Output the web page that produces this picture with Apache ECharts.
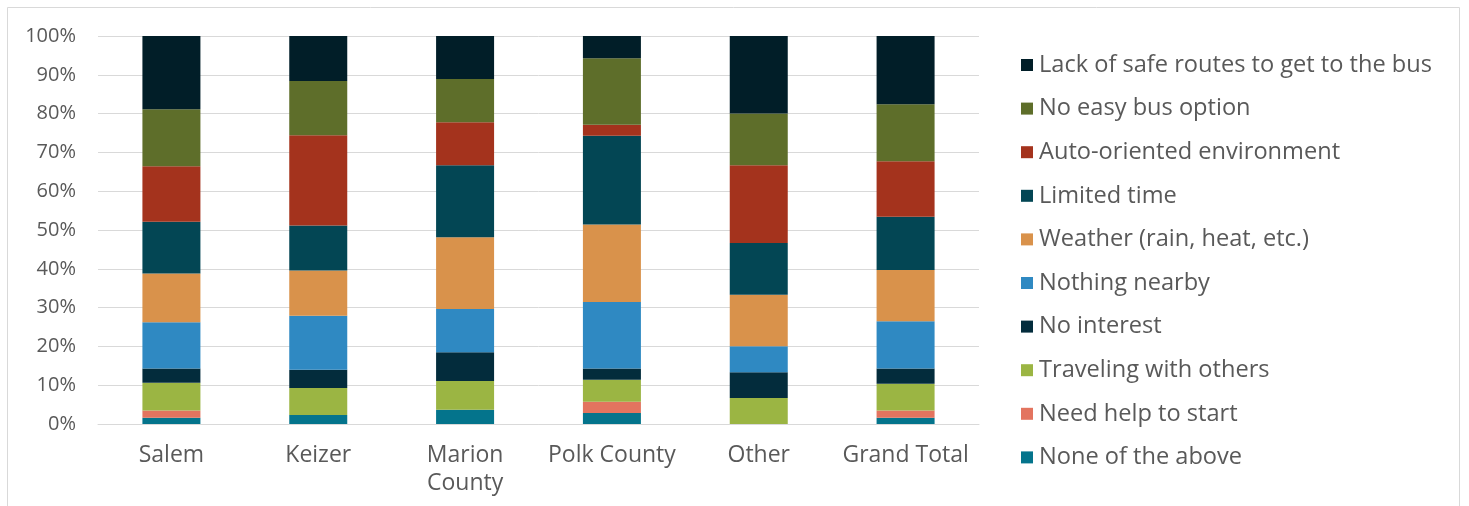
<!DOCTYPE html>
<html>
<head>
<meta charset="utf-8">
<script src="https://cdn.jsdelivr.net/npm/echarts@6/dist/echarts.min.js"></script>
<style>
  html, body { margin: 0; padding: 0; background: #ffffff; }
  #chart { width: 1469px; height: 506px; }
</style>
</head>
<body>
<div id="chart"></div>
<script>
// Categories
const categories = ["Salem", "Keizer", "Marion\nCounty", "Polk County", "Other", "Grand Total"];

// Y tick labels (percent)
const yTicks = [0, 10, 20, 30, 40, 50, 60, 70, 80, 90, 100];

// Series values (percent of each bar), bottom to top
const noneOfTheAbove   = [1.6, 2.33, 3.70, 2.86, 0,     1.6];
const needHelpToStart  = [1.9, 0,    0,    2.86, 0,     1.9];
const travelingWithOth = [7.1, 6.98, 7.41, 5.71, 6.67,  6.9];
const noInterest       = [3.7, 4.65, 7.41, 2.86, 6.67,  3.9];
const nothingNearby    = [11.9, 13.95, 11.11, 17.14, 6.67, 12.2];
const weather          = [12.6, 11.63, 18.52, 20.0, 13.33, 13.2];
const limitedTime      = [13.3, 11.63, 18.52, 22.86, 13.33, 13.7];
const autoOriented     = [14.3, 23.26, 11.11, 2.86, 20.0, 14.3];
const noEasyBus        = [14.7, 13.95, 11.11, 17.14, 13.33, 14.7];
const lackSafeRoutes   = [18.9, 11.63, 11.11, 5.71, 20.0, 17.6];

const seriesNames = [
  "None of the above",
  "Need help to start",
  "Traveling with others",
  "No interest",
  "Nothing nearby",
  "Weather (rain, heat, etc.)",
  "Limited time",
  "Auto-oriented environment",
  "No easy bus option",
  "Lack of safe routes to get to the bus"
];
const seriesData = [noneOfTheAbove, needHelpToStart, travelingWithOth, noInterest, nothingNearby,
  weather, limitedTime, autoOriented, noEasyBus, lackSafeRoutes];
const seriesColors = ["#04748C", "#E3745F", "#9BB543", "#032C3C", "#2F89C2",
  "#D9924B", "#034654", "#A4331D", "#5E6E2A", "#011E28"];

const FONT = "'Open Sans', 'DejaVu Sans', sans-serif";
const TEXT = "#595959";

const chart = echarts.init(document.getElementById('chart'), null, { renderer: 'canvas' });

const option = {
  animation: false,
  backgroundColor: '#ffffff',
  textStyle: { fontFamily: FONT },
  graphic: [{
    type: 'rect',
    silent: true,
    shape: { x: 7.5, y: 7.5, width: 1452, height: 530 },
    style: { fill: 'none', stroke: '#d9d9d9', lineWidth: 1 }
  }],
  grid: { left: 98, right: 490, top: 36, bottom: 82, containLabel: false },
  legend: {
    orient: 'vertical',
    left: 1021,
    top: 53,
    padding: 0,
    itemWidth: 12,
    itemHeight: 12,
    itemGap: 19.6,
    icon: 'rect',
    data: seriesNames.slice().reverse(),
    textStyle: { fontFamily: FONT, fontSize: 23.6, color: TEXT, lineHeight: 24, padding: [0, 0, 0, 1] },
    selectedMode: false
  },
  xAxis: {
    type: 'category',
    data: categories,
    axisLine: { show: true, lineStyle: { color: '#d9d9d9', width: 1 } },
    axisTick: { show: false },
    axisLabel: {
      fontFamily: FONT, fontSize: 23, color: TEXT, margin: 17, lineHeight: 28, interval: 0
    }
  },
  yAxis: {
    type: 'value',
    min: 0,
    max: 100,
    interval: 10,
    axisLine: { show: false },
    axisTick: { show: false },
    axisLabel: {
      fontFamily: FONT, fontSize: 20, color: TEXT, margin: 22,
      formatter: function (v) { return yTicks.indexOf(v) >= 0 ? v + '%' : ''; }
    },
    splitLine: { show: true, lineStyle: { color: '#d9d9d9', width: 1 } }
  },
  series: seriesNames.map(function (name, i) {
    return {
      name: name,
      type: 'bar',
      stack: 'total',
      barWidth: 58,
      data: seriesData[i],
      itemStyle: { color: seriesColors[i] },
      emphasis: { disabled: true }
    };
  })
};

chart.setOption(option);
</script>
</body>
</html>
